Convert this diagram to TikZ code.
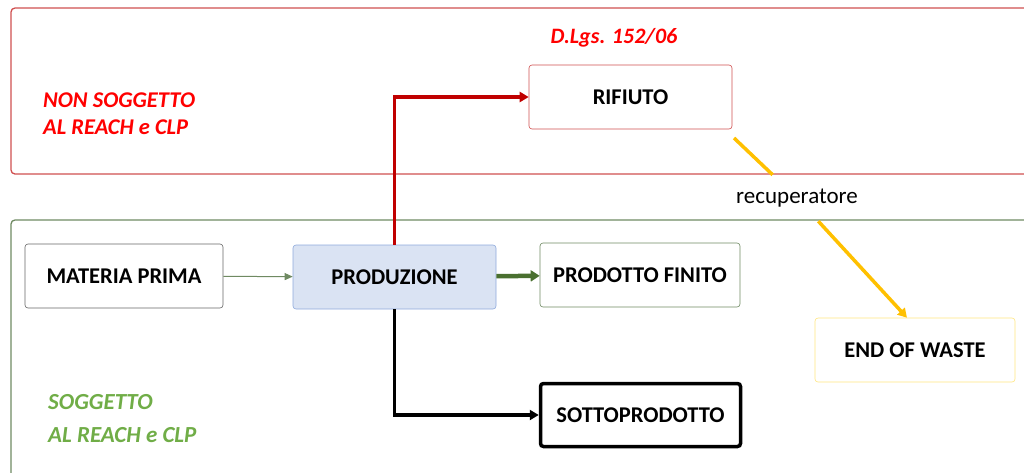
\documentclass[tikz,border=0pt]{standalone}
\usepackage{fontspec}
\setmainfont{Carlito}
\usetikzlibrary{arrows.meta}
\definecolor{myred}{HTML}{C00000}
\definecolor{boxred}{HTML}{D05050}
\definecolor{mygreen}{HTML}{70AD47}
\definecolor{darkgreen}{HTML}{4A7030}
\definecolor{graygreen}{HTML}{6F8A62}
\definecolor{myblue}{HTML}{DAE3F3}
\definecolor{blueborder}{HTML}{8FAADC}
\definecolor{myyellow}{HTML}{FFC000}
\definecolor{lightyellow}{HTML}{FFE680}
\tikzset{
  procbox/.style={draw, rounded corners=3pt, minimum width=200pt, minimum height=64pt, font=\fontsize{22.5}{24}\selectfont\bfseries, text=black, fill=white, line width=0.6pt},
  arr/.style={-{Triangle[length=8pt,width=7pt]}},
}
\begin{document}
\begin{tikzpicture}[x=1pt,y=-1pt]
\useasboundingbox (0,0) rectangle (1024,472);
\clip (0,0) rectangle (1024,472);
% regions
\draw[boxred, line width=1.3pt, rounded corners=4pt] (11,8) rectangle (1040,174);
\draw[graygreen, line width=1.3pt, rounded corners=4pt] (11,220) rectangle (1040,490);
% region labels
\node[anchor=west, text=red, font=\fontsize{22.5}{27}\selectfont\bfseries\itshape, align=left, inner sep=0pt] (nonsog) at (43,114) {NON SOGGETTO\\AL REACH e CLP};
\node[anchor=west, text=mygreen, font=\fontsize{23}{33}\selectfont\bfseries\itshape, align=left, inner sep=0pt] (sog) at (48,419) {SOGGETTO\\AL REACH e CLP};
\node[text=red, font=\fontsize{22}{24}\selectfont\bfseries\itshape] (dlgs) at (614,38) {D.Lgs. 152/06};
% boxes
\node[procbox, draw=gray!80!black, minimum width=198pt] (mp) at (124,276) {MATERIA PRIMA};
\node[procbox, draw=blueborder, fill=myblue, minimum width=203pt] (prod) at (394.5,277) {PRODUZIONE};
\node[procbox, draw=graygreen] (pf) at (640,275) {PRODOTTO FINITO};
\node[procbox, draw=black, line width=3.5pt, minimum width=200pt, minimum height=63pt] (sp) at (640.5,415) {SOTTOPRODOTTO};
\node[procbox, draw=lightyellow] (eow) at (915,350) {END OF WASTE};
\node[procbox, draw=boxred, minimum width=203pt] (rif) at (630.5,97) {RIFIUTO};
% label
\node[font=\fontsize{23}{26}\selectfont, minimum height=46pt, inner xsep=2pt] (rec) at (797,198) {recuperatore};
% connectors
\draw[arr, graygreen, line width=1pt] (mp) -- (prod);
\draw[arr, darkgreen, line width=4.5pt, -{Triangle[length=9pt,width=11pt]}] (prod) -- (pf);
\draw[arr, myred, line width=3.5pt, -{Triangle[length=9pt,width=10pt]}] (prod.north) |- (rif.west);
\draw[arr, black, line width=3.5pt, -{Triangle[length=9pt,width=10pt]}] (prod.south) |- (sp.west);
\coordinate (ys) at (734,138);
\draw[myyellow, line width=3.5pt] (ys) -- (rec);
\draw[myyellow, line width=3.5pt, -{Triangle[length=9pt,width=10pt]}] (rec) -- ([xshift=-8pt]eow.north);
\end{tikzpicture}
\end{document}
